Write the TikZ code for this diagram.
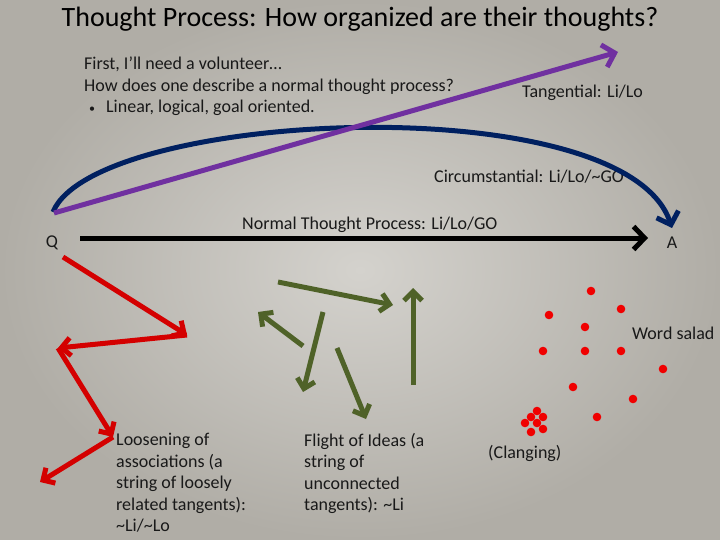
\documentclass[tikz,border=0pt]{standalone}
\usepackage{fontspec}
\setmainfont{Carlito}
\usepackage{tikz}
\usetikzlibrary{arrows.meta}
\definecolor{navy}{RGB}{0,32,96}
\definecolor{plum}{RGB}{112,48,160}
\definecolor{brick}{RGB}{212,0,0}
\definecolor{olive}{RGB}{79,98,40}
\definecolor{dotred}{RGB}{240,0,0}
\definecolor{bglight}{RGB}{212,210,205}
\definecolor{bgdark}{RGB}{176,173,166}

\begin{document}
\begin{tikzpicture}[x=1pt, y=-1pt,
    lbl/.style={inner sep=0pt, font=\fontsize{18}{21.5}\selectfont, align=left, text=black!90},
    arr/.style={-{Straight Barb[length=9pt,width=18pt]}, line width=5pt},
    big/.style={-{Straight Barb[length=11pt,width=23pt]}, line width=5pt},
    dot/.style={fill=dotred}
]
\useasboundingbox (0,0) rectangle (720,540);
\shade[inner color=bglight, outer color=bgdark] (0,0) rectangle (720,540);

\node[inner sep=0pt, font=\fontsize{28}{32}\selectfont] (title) at (360,19) {Thought Process: How organized are their thoughts?};
\node[lbl, anchor=north west] (intro) at (84,57) {First, I’ll need a volunteer…\\
How does one describe a normal thought process?\\
\hspace*{5pt}{\fontsize{12}{14}\selectfont•}\hspace{11pt}Linear, logical, goal oriented.};
\node[lbl, anchor=west] (tang) at (522,93) {Tangential: Li/Lo};
\node[lbl, anchor=west] (circ) at (434,177) {Circumstantial: Li/Lo/\textasciitilde GO};
\node[lbl, anchor=west] (norm) at (242,225) {Normal Thought Process: Li/Lo/GO};
\node[lbl] (q) at (52,243) {Q};
\node[lbl] (a) at (672,243) {A};
\node[lbl, anchor=west] (salad) at (632,333) {Word salad};
\node[lbl, anchor=west] (clang) at (488,453) {(Clanging)};
\node[lbl, anchor=north west] (loose) at (116,433) {Loosening of\\associations (a\\string of loosely\\related tangents):\\\textasciitilde Li/\textasciitilde Lo};
\node[lbl, anchor=north west] (flight) at (304,433) {Flight of Ideas (a\\string of\\unconnected\\tangents): \textasciitilde Li};

\coordinate (qs) at (80,238);  \coordinate (ae) at (648,238);
\coordinate (ps) at (54,213);  \coordinate (pe) at (618,52);
\coordinate (bs) at (53,212);  \coordinate (be) at (672,228);
\draw[big, black] (qs) -- (ae);
\draw[big, navy] (bs) .. controls (95,110) and (625,85) .. (be);
\draw[big, plum] (ps) -- (pe);

\coordinate (r0) at (63,257);  \coordinate (r1) at (187,335);
\coordinate (r2) at (58,348);  \coordinate (r3) at (113,437);
\coordinate (r4) at (40,482);
\draw[arr, brick] (r0) -- (r1); \draw[arr, brick] (r1) -- (r2);
\draw[arr, brick] (r2) -- (r3); \draw[arr, brick] (r3) -- (r4);

\coordinate (g1s) at (278,282); \coordinate (g1e) at (393,305);
\coordinate (g2s) at (413,385); \coordinate (g2e) at (413,288);
\coordinate (g3s) at (303,346); \coordinate (g3e) at (258,312);
\coordinate (g4s) at (323,312); \coordinate (g4e) at (303,392);
\coordinate (g5s) at (337,348); \coordinate (g5e) at (366,419);
\draw[arr, olive] (g1s) -- (g1e); \draw[arr, olive] (g2s) -- (g2e);
\draw[arr, olive] (g3s) -- (g3e); \draw[arr, olive] (g4s) -- (g4e);
\draw[arr, olive] (g5s) -- (g5e);

\foreach \x/\y in {591/291, 621/309, 549/315, 585/327, 543/351, 585/351, 621/351,
    663/369, 573/387, 633/399, 597/417, 537/411, 531/417, 543/417, 525/423,
    537/423, 543/429, 531/432}
  \fill[dot] (\x,\y) circle (4.3);
\end{tikzpicture}
\end{document}
